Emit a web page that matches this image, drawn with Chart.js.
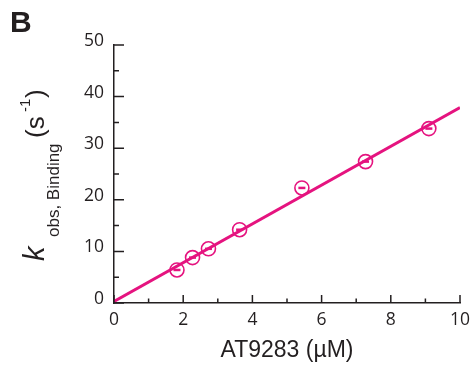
<!DOCTYPE html>
<html>
<head>
<meta charset="utf-8">
<script src="https://cdn.jsdelivr.net/npm/chart.js@4/dist/chart.umd.min.js"></script>
<style>
  html, body { margin: 0; padding: 0; background: #fff; }
  #wrap { width: 475px; height: 368px; position: relative; }
</style>
</head>
<body>
<div id="wrap"><canvas id="c" width="475" height="368"></canvas></div>
<script>
// AT9283 concentrations (µM) and observed binding rates (s^-1)
const concentrations = [1.82, 2.27, 2.73, 3.63, 5.43, 7.27, 9.1];
const kObs = [6.4, 8.8, 10.5, 14.2, 22.3, 27.4, 33.8];
// linear fit drawn across the full concentration range
const fitX = [0, 10];
const fitY = [0.3, 37.9];
// axis ticks
const xTicks = [0, 2, 4, 6, 8, 10];
const yTicks = [0, 10, 20, 30, 40, 50];

const MAGENTA = '#e5137f';
const INK = '#231f20';
const TICK_FONT = '17.5px "Open Sans", "Liberation Sans", sans-serif';
const SANS = '"Liberation Sans", Arial, sans-serif';

const toPoints = (xs, ys) => xs.map((x, i) => ({ x, y: ys[i] }));

// inward ticks, tick labels, axis titles and panel letter
const decorations = {
  id: 'decorations',
  afterDraw(chart) {
    const { ctx, chartArea: a, scales: { x, y } } = chart;
    ctx.save();
    ctx.strokeStyle = INK;
    ctx.fillStyle = INK;
    ctx.lineWidth = 1.5;

    // x ticks (major every 2, minor every 1), pointing up into the plot
    ctx.beginPath();
    for (let v = x.min; v <= x.max + 1e-9; v += 1) {
      const px = x.getPixelForValue(v);
      const len = xTicks.includes(v) ? 8 : 4.5;
      ctx.moveTo(px, a.bottom);
      ctx.lineTo(px, a.bottom - len);
    }
    // y ticks (major every 10, minor every 5), pointing right into the plot
    for (let v = y.min; v <= y.max + 1e-9; v += 5) {
      const py = y.getPixelForValue(v);
      const len = yTicks.includes(v) ? 10 : 5;
      ctx.moveTo(a.left, py);
      ctx.lineTo(a.left + len, py);
    }
    ctx.stroke();

    ctx.font = TICK_FONT;
    ctx.textAlign = 'center';
    ctx.textBaseline = 'middle';
    xTicks.forEach(v => ctx.fillText(String(v), x.getPixelForValue(v), a.bottom + 17));
    ctx.textAlign = 'right';
    yTicks.forEach(v => ctx.fillText(String(v), a.left - 10, y.getPixelForValue(v) - 4));

    // x axis title
    ctx.font = '23px ' + SANS;
    ctx.textAlign = 'center';
    ctx.textBaseline = 'alphabetic';
    ctx.fillText('AT9283 (µM)', (a.left + a.right) / 2, 357);

    // y axis title: k_{obs, Binding} (s^-1), rotated to read bottom-up
    ctx.save();
    ctx.translate(44, 261);
    ctx.rotate(-Math.PI / 2);
    ctx.textAlign = 'left';
    ctx.font = 'italic 29px ' + SANS;
    ctx.fillText('k', 0, 0);
    ctx.font = '17px ' + SANS;
    ctx.fillText('obs, Binding', 24, 15);
    ctx.font = '26px ' + SANS;
    ctx.fillText('(s', 123, 0);
    ctx.font = '15px ' + SANS;
    ctx.fillText('-1', 149, -14);
    ctx.font = '26px ' + SANS;
    ctx.fillText(')', 163, 0);
    ctx.restore();

    // panel letter
    ctx.font = 'bold 30px ' + SANS;
    ctx.textAlign = 'left';
    ctx.fillText('B', 10, 32);
    ctx.restore();
  }
};

new Chart(document.getElementById('c'), {
  type: 'scatter',
  data: {
    datasets: [
      {
        label: 'fit',
        data: toPoints(fitX, fitY),
        showLine: true,
        borderColor: MAGENTA,
        borderWidth: 3,
        pointRadius: 0,
        order: 3
      },
      {
        label: 'kobs',
        data: toPoints(concentrations, kObs),
        borderColor: MAGENTA,
        backgroundColor: 'rgba(0,0,0,0)',
        borderWidth: 1.6,
        pointRadius: 7,
        pointStyle: 'circle',
        order: 2
      },
      {
        label: 'error',
        data: toPoints(concentrations, kObs),
        borderColor: MAGENTA,
        borderWidth: 2.5,
        pointRadius: 3.5,
        pointStyle: 'line',
        order: 1
      }
    ]
  },
  options: {
    responsive: false,
    animation: false,
    events: [],
    layout: { padding: { top: 45, right: 15, left: 0, bottom: 0 } },
    plugins: { legend: { display: false }, tooltip: { enabled: false } },
    scales: {
      x: {
        type: 'linear',
        min: 0, max: 10,
        ticks: { display: false, stepSize: 2 },
        grid: { display: false, drawTicks: false },
        border: { display: true, color: INK, width: 1.5 },
        afterFit: s => { s.height = 65; }
      },
      y: {
        type: 'linear',
        min: 0, max: 50,
        ticks: { display: false, stepSize: 10 },
        grid: { display: false, drawTicks: false },
        border: { display: true, color: INK, width: 1.5 },
        afterFit: s => { s.width = 114; }
      }
    }
  },
  plugins: [decorations]
});
</script>
</body>
</html>
